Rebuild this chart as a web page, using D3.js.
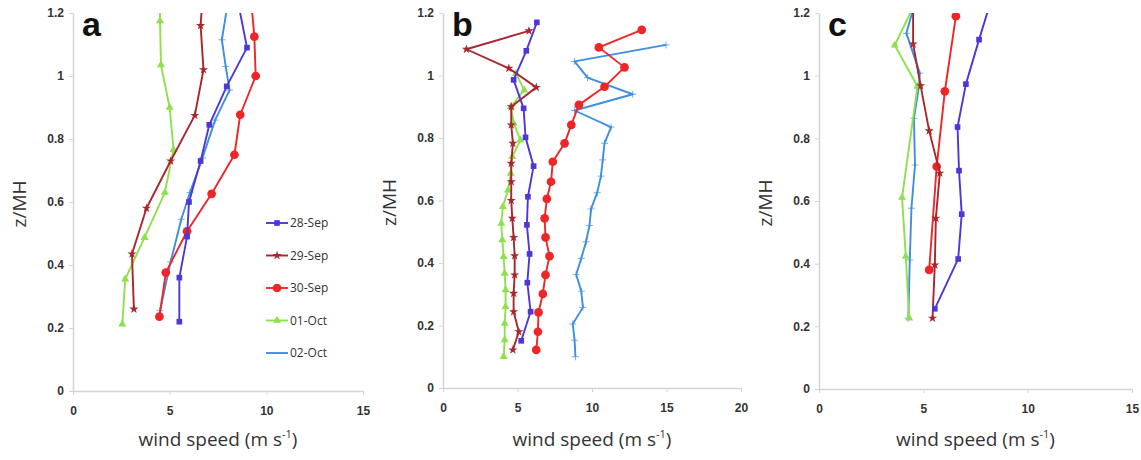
<!DOCTYPE html>
<html>
<head>
<meta charset="utf-8">
<script src="https://cdn.jsdelivr.net/npm/d3@7"></script>
<style>
  body { margin: 0; background: #fff; }
  svg { display: block; font-family: 'Open Sans', 'Liberation Sans', sans-serif; }
</style>
</head>
<body>
<div id="chart"></div>
<script>
// series names (legend order)
const dates = ['28-Sep', '29-Sep', '30-Sep', '01-Oct', '02-Oct'];

// tick labels
const yTicks = [0, 0.2, 0.4, 0.6, 0.8, 1, 1.2];
const xTicksA = [0, 5, 10, 15];
const xTicksB = [0, 5, 10, 15, 20];
const xTicksC = [0, 5, 10, 15];

// panel a : [wind speed, z/MH]
const a28Sep = [[5.5,0.22],[5.5,0.36],[5.9,0.49],[6.0,0.60],[6.6,0.73],[7.05,0.845],[7.95,0.967],[9.0,1.09],[8.55,1.23]];
const a29Sep = [[3.15,0.26],[3.05,0.435],[3.8,0.58],[5.05,0.73],[6.3,0.875],[6.75,1.02],[6.6,1.16],[6.7,1.25]];
const a30Sep = [[4.47,0.236],[4.8,0.376],[5.9,0.507],[7.17,0.626],[8.35,0.75],[8.65,0.877],[9.45,1.0],[9.38,1.125],[9.2,1.25]];
const a01Oct = [[2.55,0.212],[2.7,0.355],[3.7,0.487],[4.75,0.63],[5.2,0.766],[5.0,0.9],[4.55,1.035],[4.5,1.175],[4.5,1.25]];
const a02Oct = [[4.5,0.255],[5.05,0.41],[5.6,0.545],[6.05,0.63],[6.7,0.74],[7.35,0.86],[8.1,0.955],[7.9,1.03],[7.7,1.115],[8.0,1.23]];

// panel b
const b28Sep = [[5.25,0.151],[5.88,0.244],[5.66,0.337],[5.81,0.429],[5.63,0.522],[5.7,0.612],[6.08,0.71],[5.54,0.802],[5.41,0.895],[4.74,0.986],[5.59,1.079],[6.3,1.17]];
const b29Sep = [[4.69,0.122],[5.09,0.18],[4.74,0.244],[4.74,0.303],[4.81,0.362],[4.81,0.423],[4.74,0.482],[4.65,0.543],[4.58,0.6],[4.58,0.66],[4.58,0.719],[4.69,0.783],[4.58,0.842],[4.58,0.9],[6.26,0.962],[4.42,1.023],[1.57,1.084],[5.77,1.143]];
const b30Sep = [[6.26,0.122],[6.37,0.18],[6.41,0.242],[6.7,0.301],[6.88,0.362],[7.15,0.422],[6.88,0.482],[6.82,0.543],[6.97,0.605],[7.25,0.66],[7.37,0.724],[8.16,0.783],[8.61,0.842],[9.12,0.906],[10.84,0.964],[12.18,1.026],[10.46,1.09],[13.34,1.146]];
const b01Oct = [[4.07,0.1],[4.14,0.154],[4.14,0.207],[4.2,0.26],[4.2,0.314],[4.14,0.367],[4.07,0.42],[3.98,0.474],[3.91,0.527],[4.02,0.58],[4.36,0.633],[4.55,0.687],[4.65,0.74],[5.2,0.793],[4.75,0.847],[4.55,0.9],[5.45,0.953],[4.9,1.006]];
const b02Oct = [[8.89,0.1],[8.83,0.153],[8.71,0.205],[9.39,0.258],[9.28,0.31],[8.94,0.363],[9.28,0.415],[9.6,0.468],[9.83,0.52],[9.94,0.573],[10.35,0.625],[10.6,0.678],[10.72,0.73],[10.84,0.783],[11.28,0.835],[8.83,0.888],[12.73,0.94],[9.7,0.993],[8.83,1.045],[14.97,1.098]];

// panel c
const c28Sep = [[5.55,0.256],[6.67,0.415],[6.84,0.558],[6.71,0.697],[6.64,0.836],[7.04,0.973],[7.67,1.115],[8.2,1.23]];
const c29Sep = [[5.44,0.226],[5.55,0.396],[5.6,0.545],[5.79,0.689],[5.28,0.824],[4.87,0.968],[4.51,1.101],[4.51,1.25]];
const c30Sep = [[5.28,0.38],[5.64,0.71],[6.03,0.95],[6.56,1.19]];
const c01Oct = [[4.32,0.226],[4.16,0.423],[3.98,0.611],[4.72,0.966],[3.63,1.097],[4.45,1.21]];
const c02Oct = [[4.28,0.226],[4.35,0.412],[4.43,0.577],[4.6,0.715],[4.55,0.864],[4.8,0.97],[4.83,1.008],[4.19,1.135],[4.5,1.21]];

const colors = ['#4f36d9', '#a8262c', '#ee2628', '#8ee04c', '#3f8fdf'];

const panels = [
  { letter: 'a', xMax: 15, xTicks: xTicksA, series: [a28Sep, a29Sep, a30Sep, a01Oct, a02Oct],
    x0: 73, x1: 363, y0: 391, y1: 13, legend: true },
  { letter: 'b', xMax: 20, xTicks: xTicksB, series: [b28Sep, b29Sep, b30Sep, b01Oct, b02Oct],
    x0: 443, x1: 741, y0: 388, y1: 13, legend: false },
  { letter: 'c', xMax: 15, xTicks: xTicksC, series: [c28Sep, c29Sep, c30Sep, c01Oct, c02Oct],
    x0: 819, x1: 1132, y0: 389, y1: 13, legend: false },
];

const svg = d3.select('#chart').append('svg')
  .attr('width', 1141)
  .attr('height', 460);

// marker drawers, one per date
function marker(sel, i, color) {
  if (i === 0) {
    sel.append('path').attr('d', d3.symbol(d3.symbolSquare, 32)())
      .attr('fill', color);
  } else if (i === 1) {
    sel.append('path').attr('d', d3.symbol(d3.symbolStar, 26)())
      .attr('fill', color);
  } else if (i === 2) {
    sel.append('path').attr('d', d3.symbol(d3.symbolCircle, 60)())
      .attr('fill', color);
  } else if (i === 3) {
    sel.append('path').attr('d', d3.symbol(d3.symbolTriangle, 28)())
      .attr('fill', color);
  } else {
    const s = 3.5;
    sel.append('path').attr('d', `M${-s},0H${s}M0,${-s}V${s}`)
      .attr('stroke', color).attr('stroke-width', 1).attr('fill', 'none')
      .attr('opacity', 0.7);
  }
}

panels.forEach((p, pi) => {
  const x = d3.scaleLinear().domain([0, p.xMax]).range([p.x0, p.x1]);
  const y = d3.scaleLinear().domain([0, 1.2]).range([p.y0, p.y1]);

  // axes
  const yAxis = svg.append('g')
    .attr('transform', `translate(${p.x0},0)`)
    .call(d3.axisLeft(y).tickValues(yTicks).tickFormat(d3.format('~g')).tickSize(4).tickSizeOuter(0).tickPadding(5));
  const xAxis = svg.append('g')
    .attr('transform', `translate(0,${p.y0})`)
    .call(d3.axisBottom(x).tickValues(p.xTicks).tickSize(4).tickSizeOuter(0).tickPadding(11));
  [xAxis, yAxis].forEach((ax) => {
    ax.select('.domain').attr('stroke', '#d4d4d4').attr('stroke-width', 1.5);
    ax.selectAll('.tick line').attr('stroke', '#d4d4d4');
    ax.selectAll('.tick text')
      .attr('fill', '#333')
      .style('font-size', '12px')
      .style('font-weight', '600');
  });

  // axis titles
  const title = svg.append('text')
    .attr('x', (p.x0 + p.x1) / 2)
    .attr('y', 446)
    .attr('text-anchor', 'middle')
    .attr('fill', '#333')
    .style('font-size', '19px');
  title.append('tspan').text('wind speed (m s');
  title.append('tspan').text('-1').attr('dy', -8).style('font-size', '11px');
  title.append('tspan').text(')').attr('dy', 8);

  svg.append('text')
    .attr('transform', `translate(${p.x0 - 47},${(p.y0 + p.y1) / 2 + 2}) rotate(-90)`)
    .attr('text-anchor', 'middle')
    .attr('fill', '#333')
    .style('font-size', '19px')
    .text('z/MH');

  // clip to plot area
  svg.append('clipPath').attr('id', 'clip' + pi)
    .append('rect')
    .attr('x', p.x0).attr('y', p.y1)
    .attr('width', p.x1 - p.x0 + 10).attr('height', p.y0 - p.y1);

  const plot = svg.append('g').attr('clip-path', `url(#clip${pi})`);

  const line = d3.line().x((d) => x(d[0])).y((d) => y(d[1]));

  // draw in reverse so 28-Sep sits on top
  [4, 3, 2, 1, 0].forEach((i) => {
    const data = p.series[i];
    plot.append('path')
      .datum(data)
      .attr('fill', 'none')
      .attr('stroke', colors[i])
      .attr('stroke-width', 1.9)
      .attr('stroke-linejoin', 'round')
      .attr('d', line);
    plot.selectAll('.m' + i)
      .data(data)
      .enter()
      .append('g')
      .attr('class', 'm' + i)
      .attr('transform', (d) => `translate(${x(d[0])},${y(d[1])})`)
      .each(function () { marker(d3.select(this), i, colors[i]); });
  });

  // panel letter
  svg.append('text')
    .attr('x', p.x0 + 9)
    .attr('y', p.y1 + 23)
    .attr('fill', '#111')
    .style('font-family', "'Liberation Sans', Arial, sans-serif")
    .style('font-size', '34px')
    .style('font-weight', 'bold')
    .text(p.letter);

  // legend
  if (p.legend) {
    const lg = svg.append('g').attr('transform', 'translate(266,223)');
    dates.forEach((dname, i) => {
      const row = lg.append('g').attr('transform', `translate(0,${i * 32.5})`);
      row.append('line')
        .attr('x1', 0).attr('x2', 22)
        .attr('stroke', colors[i]).attr('stroke-width', 1.9);
      const m = row.append('g').attr('transform', 'translate(11,0)');
      if (i < 4) marker(m, i, colors[i]);
      row.append('text')
        .attr('x', 24).attr('y', 4)
        .attr('fill', '#333')
        .style('font-size', '12px')
        .text(dname);
    });
  }
});
</script>
</body>
</html>
